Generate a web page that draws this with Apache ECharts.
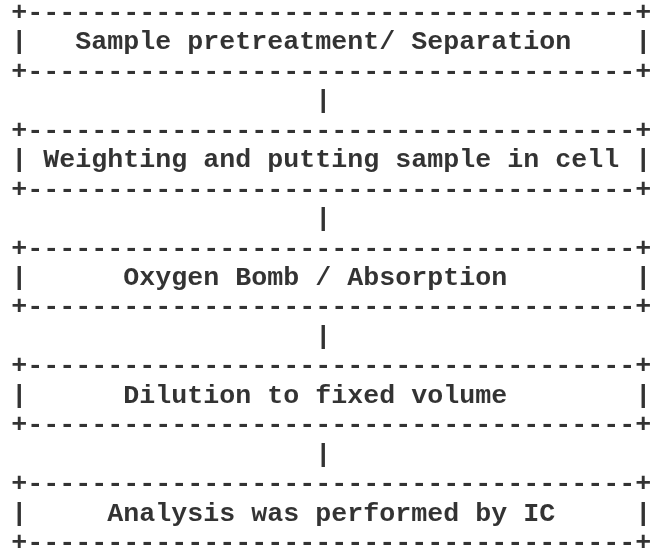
<!DOCTYPE html>
<html>
<head>
<meta charset="utf-8">
<script src="https://cdn.jsdelivr.net/npm/echarts@6/dist/echarts.min.js"></script>
<style>
  html, body { margin: 0; padding: 0; background: #fff; }
  #chart { width: 654px; height: 553px; }
</style>
</head>
<body>
<div id="chart"></div>
<script>
// flow steps, top to bottom
const steps = [
  'Sample pretreatment/ Separation',
  'Weighting and putting sample in cell',
  'Oxygen Bomb / Absorption',
  'Dilution to fixed volume',
  'Analysis was performed by IC'
];
// spaces between the left bar and the step text
const indent = [3, 1, 6, 6, 5];
const boxChars = 40;
const connectorCol = 19;

const border = '+' + '-'.repeat(boxChars - 2) + '+';
const rows = [];
steps.forEach(function (s, i) {
  if (i > 0) rows.push(' '.repeat(connectorCol) + '|');
  rows.push(border);
  const rest = boxChars - 2 - indent[i] - s.length;
  rows.push('|' + ' '.repeat(indent[i]) + s + ' '.repeat(rest) + '|');
  rows.push(border);
});
// borders between boxes are shared with the connector line
const lines = [];
rows.forEach(function (r, i) {
  if (r === border && lines.length && lines[lines.length - 1] === border) return;
  lines.push(r);
});

const cats = lines.map(function (l, i) { return 'r' + i; });

const myChart = echarts.init(document.getElementById('chart'));

const option = {
  backgroundColor: '#ffffff',
  animation: false,
  grid: { left: 11.3, right: 2.7, top: 13.3, bottom: 9.7 },
  xAxis: { type: 'value', min: 0, max: boxChars, show: false },
  yAxis: {
    type: 'category',
    data: cats,
    inverse: true,
    boundaryGap: false,
    show: false
  },
  series: [
    {
      type: 'scatter',
      symbolSize: 0,
      silent: true,
      data: lines.map(function (l, i) {
        return { name: l, value: [0, i] };
      }),
      label: {
        show: true,
        position: 'right',
        distance: 0,
        formatter: function (p) { return p.name; },
        fontFamily: '"Courier New", "Liberation Mono", monospace',
        fontWeight: 'bold',
        fontSize: 26.67,
        color: '#000',
        align: 'left',
        verticalAlign: 'middle'
      }
    }
  ]
};

myChart.setOption(option);
</script>
</body>
</html>
